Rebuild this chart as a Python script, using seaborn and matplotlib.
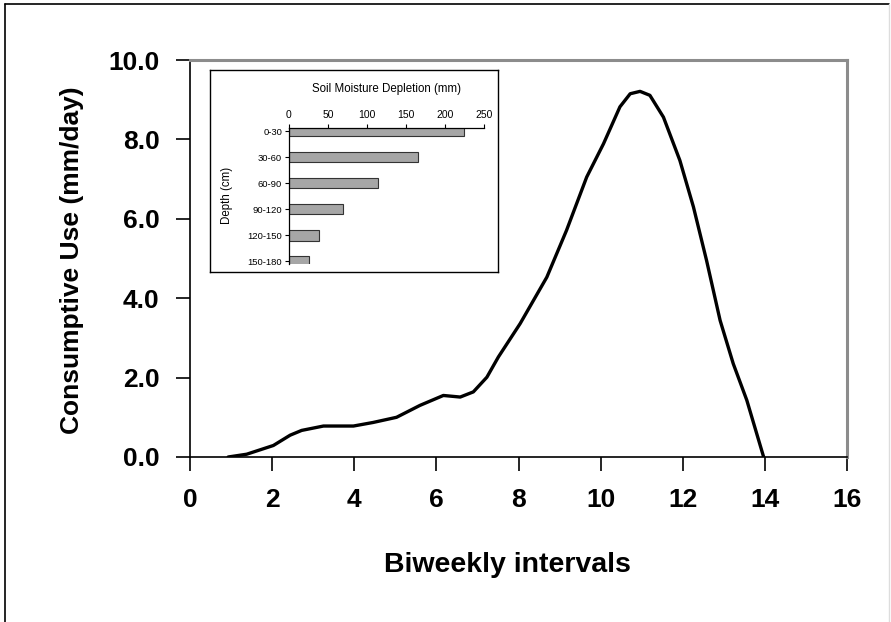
import matplotlib
matplotlib.use("Agg")
import matplotlib.pyplot as plt
import seaborn as sns
import pandas as pd
from matplotlib.lines import Line2D

# ---- data ----
biweekly = [0.93, 1.38, 2.03, 2.44, 2.72, 3.25, 3.98, 4.46, 5.03, 5.60, 6.17, 6.58, 6.90,
            7.23, 7.51, 8.04, 8.69, 9.17, 9.66, 10.07, 10.47, 10.72, 10.96, 11.20, 11.53,
            11.93, 12.26, 12.58, 12.91, 13.23, 13.56, 13.97]
consumptive_use = [0.0, 0.07, 0.29, 0.55, 0.67, 0.78, 0.78, 0.87, 1.0, 1.3, 1.55, 1.51, 1.64,
                   2.01, 2.52, 3.36, 4.53, 5.71, 7.05, 7.89, 8.82, 9.15, 9.21, 9.11, 8.56,
                   7.47, 6.30, 4.95, 3.44, 2.35, 1.43, 0.0]

depths = ["0-30", "30-60", "60-90", "90-120", "120-150", "150-180"]
depletion = [224, 165, 114, 69, 38, 25]

x_ticks = [0, 2, 4, 6, 8, 10, 12, 14, 16]
y_ticks = [0, 2, 4, 6, 8, 10]
inset_ticks = [0, 50, 100, 150, 200, 250]

sns.set_style("white")
plt.rcParams["font.family"] = ["Liberation Sans", "DejaVu Sans"]
plt.rcParams["text.color"] = "black"
plt.rcParams["axes.labelcolor"] = "black"
plt.rcParams["xtick.color"] = "black"
plt.rcParams["ytick.color"] = "black"

W, H = 891, 622
fig = plt.figure(figsize=(W / 100, H / 100), dpi=100)
fig.patch.set_facecolor("white")

def fx(px):
    return px / W

def fy(py):
    return 1 - py / H

# figure frame
fig.add_artist(Line2D([fx(5), fx(5)], [0, fy(4)], color="black", lw=1.2, transform=fig.transFigure))
fig.add_artist(Line2D([fx(5), fx(889)], [fy(4), fy(4)], color="black", lw=1.2, transform=fig.transFigure))
fig.add_artist(Line2D([fx(889), fx(889)], [0, fy(4)], color="#dddddd", lw=1.0, transform=fig.transFigure))

# ---- main axes ----
ax = fig.add_axes([fx(190), fy(457), fx(847) - fx(190), fy(60) - fy(457)])
df = pd.DataFrame({"x": biweekly, "y": consumptive_use})
sns.lineplot(data=df, x="x", y="y", ax=ax, color="black", lw=2.4, sort=False)
ax.set_xlim(0, 16)
ax.set_ylim(0, 10)
ax.set_xticks(x_ticks)
ax.set_yticks(y_ticks)
ax.set_yticklabels([f"{v:.1f}" for v in y_ticks])
ax.set_xlabel("")
ax.set_ylabel("")
for s in ["top", "right"]:
    ax.spines[s].set_color("#8c8c8c")
    ax.spines[s].set_linewidth(2.2)
for s in ["left", "bottom"]:
    ax.spines[s].set_color("black")
    ax.spines[s].set_linewidth(1.2)
ax.tick_params(axis="both", direction="out", length=10, width=1.2, color="black",
               labelcolor="black", labelsize=19, pad=12, bottom=True, left=True)
for lab in ax.get_xticklabels() + ax.get_yticklabels():
    lab.set_fontweight("bold")

fig.text(fx(72), fy(260), "Consumptive Use (mm/day)", rotation=90, ha="center", va="center",
         fontsize=19, fontweight="bold", color="black")
fig.text(fx(507), fy(565), "Biweekly intervals", ha="center", va="center",
         fontsize=20.5, fontweight="bold", color="black")

# ---- inset box ----
box = fig.add_axes([fx(210), fy(272), fx(498) - fx(210), fy(70) - fy(272)])
box.set_xticks([])
box.set_yticks([])
box.set_facecolor("white")
for s in box.spines.values():
    s.set_color("black")
    s.set_linewidth(1.0)

# ---- inset bar chart ----
iax = fig.add_axes([fx(289), fy(264), fx(484) - fx(289), fy(128) - fy(264)])
idf = pd.DataFrame({"depth": depths, "depletion": depletion})
sns.barplot(data=idf, x="depletion", y="depth", orient="h", ax=iax, color="#a6a6a6",
            edgecolor="#333333", linewidth=0.8, width=0.4, saturation=1)
iax.set_facecolor("none")
iax.set_xlim(0, 250)
iax.set_ylim(5.1, -0.12)
iax.set_xticks(inset_ticks)
iax.xaxis.tick_top()
iax.set_xlabel("")
iax.set_ylabel("")
for s in ["right", "bottom"]:
    iax.spines[s].set_visible(False)
for s in ["top", "left"]:
    iax.spines[s].set_color("black")
    iax.spines[s].set_linewidth(0.9)
iax.tick_params(axis="x", top=True, bottom=False, direction="out", length=3, width=0.8,
                labelsize=7.5, pad=3, labelcolor="black")
iax.tick_params(axis="y", left=True, direction="out", length=3, width=0.8, labelsize=6.8,
                pad=2, labelcolor="black")

fig.text(fx(387), fy(89), "Soil Moisture Depletion (mm)", ha="center", va="center",
         fontsize=8.3, color="black")
fig.text(fx(227), fy(195), "Depth (cm)", rotation=90, ha="center", va="center",
         fontsize=8.3, color="black")

fig.savefig("out.png", dpi=100, facecolor="white")
